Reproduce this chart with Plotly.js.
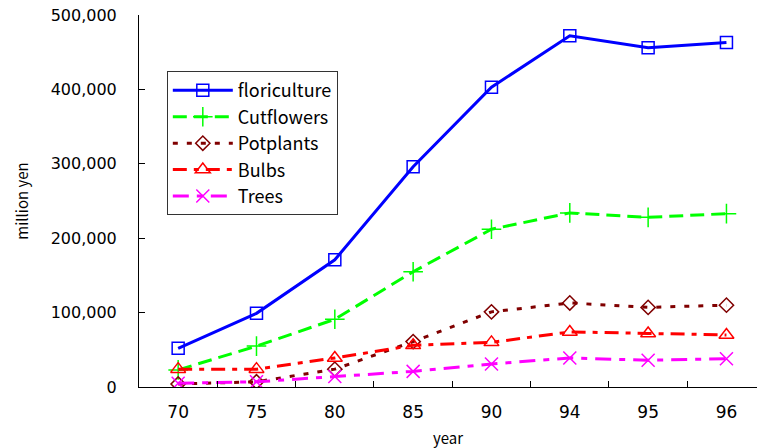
<!DOCTYPE html>
<html>
<head>
<meta charset="utf-8">
<script src="https://cdn.plot.ly/plotly-3.0.1.min.js"></script>
<style>html,body{margin:0;padding:0;background:#fff;}#chart{width:757px;height:448px;}</style>
</head>
<body>
<div id="chart"></div>
<script>
var years = ["70", "75", "80", "85", "90", "94", "95", "96"];
var floriculture = [52000, 99000, 171000, 296000, 403000, 472000, 456000, 463000];
var cutflowers = [23000, 55000, 91000, 155000, 212000, 234000, 228000, 233000];
var potplants = [4000, 7000, 24000, 61000, 101000, 113000, 107000, 110000];
var bulbs = [24000, 24000, 39000, 56000, 60000, 74000, 72000, 70000];
var trees = [5000, 7000, 14000, 21000, 31000, 39000, 36000, 38000];

var seriesNames = ["floriculture", "Cutflowers", "Potplants", "Bulbs", "Trees"];
var seriesData = [floriculture, cutflowers, potplants, bulbs, trees];
var colors = ["#0000FF", "#00FF00", "#800000", "#FF0000", "#FF00FF"];
var dashes = ["solid", "14px,7px", "5px,9px", "14px,7px,5px,7px", "16px,8px,6px,8px"];
var symbols = ["square-open", "cross-thin-open", "diamond-open", "triangle-up-open", "x-thin-open"];
var msizes = [12, 14, 11, 13, 13];

var traces = seriesNames.map(function (n, i) {
  return {
    x: years, y: seriesData[i], name: n, type: "scatter", mode: "lines+markers",
    line: {color: colors[i], width: 3, dash: dashes[i]},
    marker: {symbol: symbols[i], size: msizes[i], color: colors[i], line: {color: colors[i], width: 1.5}}
  };
});

var titleFont = {family: "Noto Sans CJK JP, sans-serif", size: 15, color: "#000"};
var layout = {
  width: 757, height: 448,
  margin: {l: 139, r: 0, t: 15, b: 61},
  paper_bgcolor: "#fff", plot_bgcolor: "#fff",
  showlegend: true,
  legend: {
    x: 0.045, y: 0.849, xanchor: "left", yanchor: "top",
    bordercolor: "#333", borderwidth: 1, bgcolor: "#fff",
    font: {family: "Noto Sans CJK JP, sans-serif", size: 18, color: "#000"},
    itemwidth: 60, tracegroupgap: 0
  },
  xaxis: {
    type: "category", range: [-0.5, 7.39],
    showgrid: false, zeroline: false,
    showline: true, linecolor: "#000", linewidth: 1,
    ticks: "inside", ticklen: 6, tickcolor: "#000", tickson: "boundaries",
    ticklabelstandoff: 10,
    tickfont: {family: "DejaVu Sans, sans-serif", size: 17, color: "#000"},
    title: {text: "year", font: titleFont, standoff: 12}
  },
  yaxis: {
    range: [0, 500000], tickvals: [0, 100000, 200000, 300000, 400000, 500000],
    ticktext: ["0", "100,000", "200,000", "300,000", "400,000", "500,000"],
    showgrid: false, zeroline: false,
    showline: true, linecolor: "#000", linewidth: 1,
    ticks: "inside", ticklen: 6, tickcolor: "#000",
    ticklabelstandoff: 18,
    tickfont: {family: "DejaVu Sans, sans-serif", size: 16, color: "#000"},
    title: {text: "million yen", font: titleFont, standoff: 18}
  }
};
Plotly.newPlot("chart", traces, layout, {displayModeBar: false, staticPlot: true});
</script>
</body>
</html>
